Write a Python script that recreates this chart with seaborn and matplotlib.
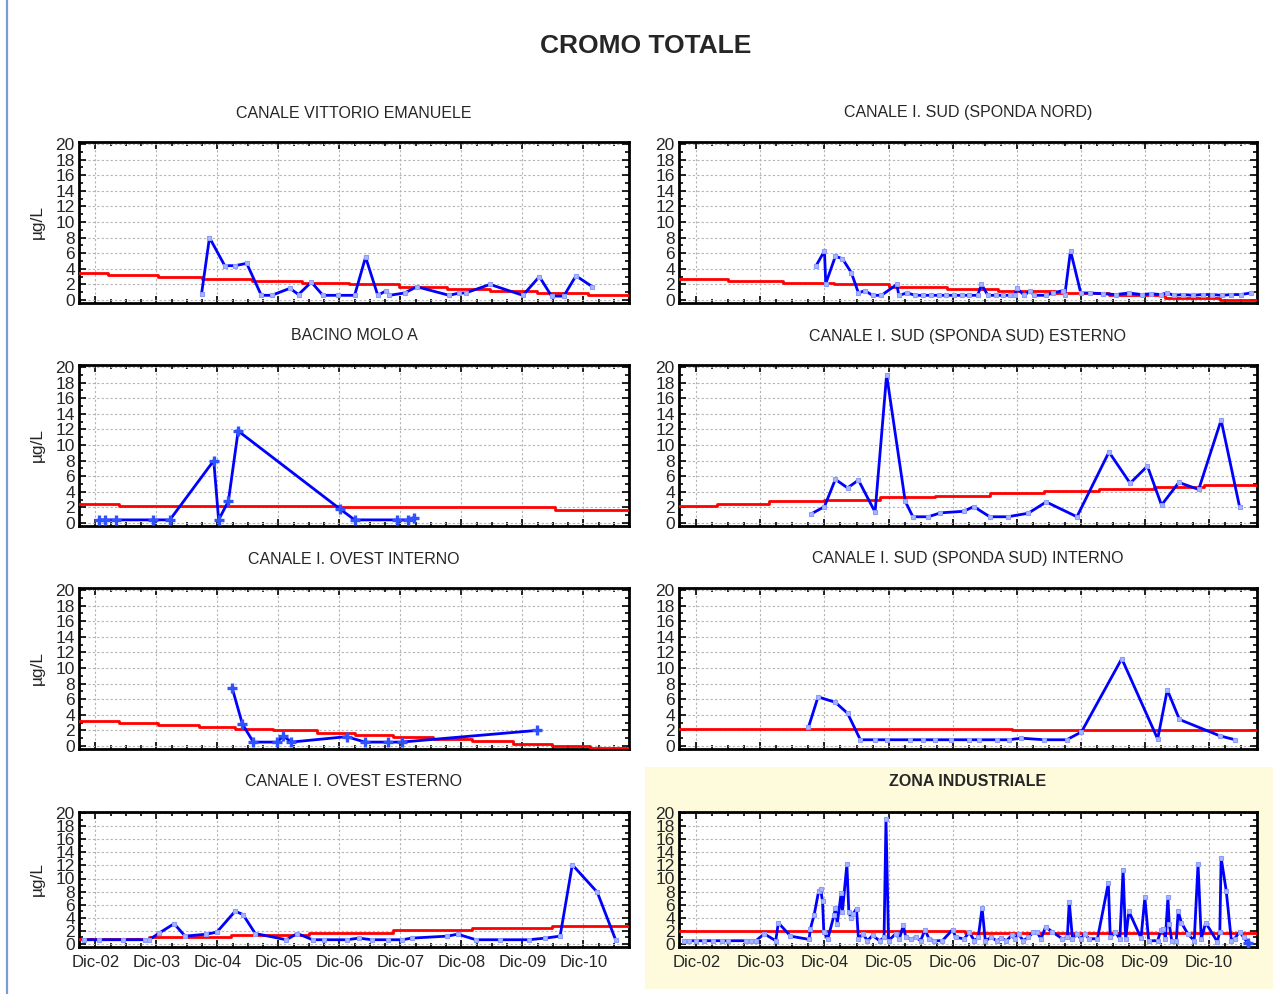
import numpy as np
import pandas as pd
import matplotlib
matplotlib.use('Agg')
import matplotlib.pyplot as plt
import seaborn as sns
from matplotlib.ticker import MultipleLocator, FixedLocator
from matplotlib.patches import Rectangle
from matplotlib.lines import Line2D

# ---------------- DATA (x = years after Dic-02) ----------------
year_labels = ["Dic-02", "Dic-03", "Dic-04", "Dic-05", "Dic-06",
               "Dic-07", "Dic-08", "Dic-09", "Dic-10"]

titles = ["CANALE VITTORIO EMANUELE", "CANALE I. SUD (SPONDA NORD)",
          "BACINO MOLO A", "CANALE I. SUD (SPONDA SUD) ESTERNO",
          "CANALE I. OVEST INTERNO", "CANALE I. SUD (SPONDA SUD) INTERNO",
          "CANALE I. OVEST ESTERNO", "ZONA INDUSTRIALE"]

# CANALE VITTORIO EMANUELE
t_vitt = [1.74, 1.87, 2.12, 2.29, 2.48, 2.72, 2.89, 3.19, 3.33, 3.54, 3.73, 3.98, 4.25, 4.43, 4.63,
          4.77, 4.82, 5.07, 5.27, 5.80, 5.97, 6.07, 6.47, 7.01, 7.28, 7.48, 7.68, 7.88, 8.15]
v_vitt = [0.8, 8.0, 4.4, 4.4, 4.7, 0.6, 0.6, 1.5, 0.7, 2.3, 0.6, 0.6, 0.6, 5.5, 0.6,
          1.2, 0.6, 0.9, 1.7, 0.6, 0.9, 0.9, 2.0, 0.6, 3.0, 0.5, 0.5, 3.1, 1.7]
rb_vitt = [0.21, 1.02, 1.75, 2.56, 3.39, 4.16, 4.97, 5.77, 6.47, 7.24, 8.08]
rl_vitt = [3.5, 3.2, 3.0, 2.7, 2.5, 2.2, 2.0, 1.7, 1.4, 1.1, 0.9, 0.6]

# CANALE I. SUD (SPONDA NORD)
t_nord = [1.87, 2.00, 2.02, 2.17, 2.28, 2.42, 2.53, 2.63, 2.75, 2.89,
          3.13, 3.16, 3.29, 3.42, 3.54, 3.66, 3.78, 3.90, 4.02, 4.14,
          4.26, 4.39, 4.45, 4.55, 4.67, 4.79, 4.90, 4.97, 5.00, 5.12,
          5.21, 5.27, 5.46, 5.56, 5.72, 5.75, 5.84, 6.00, 6.15, 6.35,
          6.55, 6.75, 6.95, 7.10, 7.25, 7.35, 7.45, 7.60, 7.75, 7.90,
          8.05, 8.20, 8.35, 8.50, 8.65]
v_nord = [4.4, 6.3, 2.1, 5.6, 5.3, 3.5, 0.9, 1.2, 0.6, 0.6,
          2.0, 0.6, 0.9, 0.6, 0.6, 0.6, 0.6, 0.6, 0.6, 0.6,
          0.6, 0.6, 2.0, 0.6, 0.6, 0.6, 0.6, 0.6, 1.5, 0.6,
          1.2, 0.6, 0.6, 0.9, 1.2, 0.6, 6.3, 0.9, 0.9, 0.8,
          0.7, 0.9, 0.7, 0.8, 0.7, 0.9, 0.6, 0.7, 0.6, 0.7,
          0.7, 0.6, 0.7, 0.7, 0.9]
rb_nord = [0.49, 1.35, 2.15, 3.0, 3.92, 4.71, 5.59, 6.44, 7.31, 8.17]
rl_nord = [2.7, 2.4, 2.2, 2.0, 1.7, 1.4, 1.1, 0.9, 0.6, 0.3, 0.0]

# BACINO MOLO A
t_molo = [0.05, 0.15, 0.33, 0.95, 1.22, 1.94, 2.02, 2.18, 2.34, 4.01, 4.25, 4.95, 5.13, 5.22]
v_molo = [0.4, 0.4, 0.4, 0.4, 0.4, 8.0, 0.4, 2.8, 11.8, 1.8, 0.4, 0.4, 0.4, 0.7]
rb_molo = [0.38, 4.0, 7.54]
rl_molo = [2.5, 2.2, 2.0, 1.7]

# CANALE I. SUD (SPONDA SUD) ESTERNO
t_sest = [1.79, 2.00, 2.17, 2.36, 2.53, 2.79, 2.97, 3.26, 3.38, 3.62, 3.81, 4.17, 4.33,
          4.58, 4.86, 5.18, 5.46, 5.94, 6.44, 6.77, 7.04, 7.26, 7.53, 7.84, 8.19, 8.48]
v_sest = [1.15, 2.1, 5.6, 4.5, 5.5, 1.4, 19.0, 2.8, 0.8, 0.8, 1.3, 1.5, 2.1,
          0.8, 0.8, 1.25, 2.7, 0.8, 9.1, 5.1, 7.3, 2.3, 5.2, 4.3, 13.2, 2.0]
rb_sest = [0.32, 1.13, 2.0, 2.86, 3.72, 4.59, 5.43, 6.29, 7.15, 7.93]
rl_sest = [2.2, 2.5, 2.8, 3.0, 3.3, 3.5, 3.8, 4.1, 4.3, 4.6, 4.9]

# CANALE I. OVEST INTERNO
t_oint = [2.24, 2.41, 2.59, 2.98, 3.08, 3.21, 4.12, 4.42, 4.79, 5.02, 7.24]
v_oint = [7.5, 2.8, 0.5, 0.5, 1.3, 0.5, 1.2, 0.5, 0.5, 0.5, 2.0]
rb_oint = [0.38, 1.02, 1.69, 2.29, 2.91, 3.63, 4.25, 4.88, 5.54, 6.17, 6.84, 7.48, 8.11]
rl_oint = [3.2, 3.0, 2.7, 2.5, 2.2, 2.0, 1.7, 1.4, 1.1, 0.9, 0.6, 0.3, 0.0, -0.3]

# CANALE I. SUD (SPONDA SUD) INTERNO
t_sint = [1.75, 1.90, 2.17, 2.36, 2.56, 2.79, 2.97, 3.34, 3.53, 3.72, 3.97, 4.25, 4.41,
          4.69, 4.88, 5.07, 5.43, 5.78, 6.01, 6.64, 7.20, 7.35, 7.54, 8.17, 8.41]
v_sint = [2.4, 6.3, 5.6, 4.2, 0.8, 0.8, 0.8, 0.8, 0.8, 0.8, 0.8, 0.8, 0.8,
          0.8, 0.8, 1.0, 0.8, 0.8, 1.8, 11.2, 0.9, 7.2, 3.4, 1.3, 0.8]
rb_sint = [4.93]
rl_sint = [2.2, 2.0]

# CANALE I. OVEST ESTERNO
t_oest = [-0.19, 0.05, 0.45, 0.82, 0.88, 1.05, 1.29, 1.47, 1.82, 1.99, 2.29, 2.42, 2.62,
          3.13, 3.31, 3.56, 3.75, 4.13, 4.32, 4.53, 4.79, 5.03, 5.19, 5.77, 5.94, 6.24,
          6.64, 7.11, 7.38, 7.62, 7.82, 8.23, 8.53]
v_oest = [0.65, 0.65, 0.65, 0.65, 0.65, 1.7, 3.1, 1.2, 1.5, 1.8, 5.0, 4.5, 1.6,
          0.65, 1.6, 0.65, 0.65, 0.65, 0.9, 0.65, 0.65, 0.65, 0.9, 1.2, 1.5, 0.65,
          0.65, 0.65, 0.9, 1.2, 12.1, 7.9, 0.65]
rb_oest = [0.88, 2.22, 3.51, 4.88, 6.18, 7.49]
rl_oest = [0.8, 1.1, 1.4, 1.7, 2.1, 2.4, 2.7]

# ZONA INDUSTRIALE
t_zona = [-0.19, -0.11, 0.0, 0.12, 0.26, 0.4, 0.5, 0.77, 0.85, 0.93,
          1.06, 1.24, 1.28, 1.47, 1.76, 1.78, 1.84, 1.91, 1.94, 1.97,
          1.99, 2.05, 2.15, 2.17, 2.20, 2.26, 2.28, 2.35, 2.38, 2.41,
          2.45, 2.50, 2.53, 2.60, 2.67, 2.75, 2.86, 2.93, 2.96, 3.00,
          3.11, 3.17, 3.23, 3.27, 3.35, 3.43, 3.50, 3.57, 3.63, 3.71,
          3.84, 4.00, 4.05, 4.18,
          4.26, 4.34, 4.40, 4.46, 4.51, 4.60, 4.69, 4.76, 4.84, 4.92,
          4.97, 5.03, 5.10, 5.18, 5.26, 5.31, 5.38, 5.45, 5.55, 5.71,
          5.79, 5.82, 5.87, 5.94, 6.00, 6.06, 6.13, 6.26, 6.43, 6.46,
          6.54, 6.61, 6.66, 6.70, 6.75, 6.94, 7.00, 7.06, 7.20, 7.25,
          7.29, 7.32, 7.36, 7.38, 7.42, 7.49, 7.52, 7.57, 7.67, 7.77,
          7.83, 7.88, 7.95, 8.13, 8.17, 8.19, 8.27, 8.35, 8.40, 8.48,
          8.54, 8.61]
v_zona = [0.5, 0.5, 0.5, 0.5, 0.5, 0.5, 0.5, 0.5, 0.5, 0.5,
          1.55, 0.5, 3.25, 1.2, 0.7, 2.3, 4.5, 8.1, 8.4, 6.5,
          1.9, 0.7, 4.4, 5.5, 3.1, 7.75, 4.9, 12.2, 4.9, 4.0,
          4.65, 5.4, 0.8, 1.55, 0.5, 1.3, 0.5, 1.0, 19.1, 0.5,
          1.55, 0.8, 2.85, 1.0, 0.8, 1.0, 0.5, 2.2, 0.8, 0.5,
          0.5, 2.2, 1.0, 0.8,
          1.8, 0.5, 1.0, 5.5, 0.5, 1.0, 0.5, 0.9, 0.5, 1.3,
          0.8, 1.55, 0.5, 1.0, 1.8, 1.9, 0.8, 2.6, 1.9, 0.8,
          1.0, 6.45, 0.8, 1.55, 0.8, 1.55, 0.8, 0.8, 9.3, 1.0,
          1.8, 0.8, 11.3, 0.7, 5.0, 0.9, 7.1, 0.5, 0.5, 2.1,
          2.3, 0.8, 7.1, 3.1, 0.5, 0.5, 5.0, 3.25, 1.55, 0.5,
          12.2, 0.8, 3.25, 0.35, 1.9, 13.2, 8.1, 0.5, 0.8, 1.9,
          1.0, 0.15]
rb_zona = [4.2]
rl_zona = [2.0, 1.7]

# ---------------- FIGURE ----------------
sns.set_theme(style='white')
plt.rcParams['font.family'] = ['Liberation Sans', 'DejaVu Sans']

W, H = 1273, 994
fig = plt.figure(figsize=(W / 100, H / 100), dpi=100)
fig.patch.set_facecolor('white')

XMIN, XMAX = -0.27, 8.75
YMIN, YMAX = -0.4, 20.2

# yellow background for ZONA INDUSTRIALE
fig.patches.append(Rectangle((645 / W, 1 - 989 / H), (W - 645) / W, (989 - 767) / H,
                             transform=fig.transFigure, facecolor='#fdfbdc',
                             edgecolor='none', zorder=-5))
# left border line of the frame
fig.lines.append(Line2D([7 / W, 7 / W], [0, 1], transform=fig.transFigure,
                        color='#7b9bd2', lw=1.6, zorder=-5))

fig.text(646 / W, 1 - 46 / H, "CROMO TOTALE", ha='center', va='center',
         fontsize=19, fontweight='bold')

cols = [(79, 629), (679, 1257)]
rows = [(144, 300), (367, 523), (590, 746), (813, 944)]  # pixel y of 20 and 0
title_y = [113, 336, 559, 782]

panels = [
    (t_vitt, v_vitt, rb_vitt, rl_vitt, 's'),
    (t_nord, v_nord, rb_nord, rl_nord, 's'),
    (t_molo, v_molo, rb_molo, rl_molo, '+'),
    (t_sest, v_sest, rb_sest, rl_sest, 's'),
    (t_oint, v_oint, rb_oint, rl_oint, '+'),
    (t_sint, v_sint, rb_sint, rl_sint, 's'),
    (t_oest, v_oest, rb_oest, rl_oest, 's'),
    (t_zona, v_zona, rb_zona, rl_zona, 's'),
]

for i, (tt, vv, rb, rl, mk) in enumerate(panels):
    r, c = divmod(i, 2)
    x0, x1 = cols[c]
    y20, y0 = rows[r]
    ppu = (y0 - y20) / 20.0
    top = y20 - (YMAX - 20) * ppu
    bot = y0 - YMIN * ppu
    ax = fig.add_axes([x0 / W, 1 - bot / H, (x1 - x0) / W, (bot - top) / H])
    ax.set_zorder(2)
    ax.set_facecolor('white')

    # red step trend
    rx = [XMIN] + list(rb) + [XMAX]
    ry = list(rl) + [rl[-1]]
    sns.lineplot(x=rx, y=ry, ax=ax, color='#ff0000', lw=2.0, drawstyle='steps-post',
                 estimator=None, sort=False, zorder=3)

    # blue measured series
    if mk == '+':
        sns.lineplot(x=tt, y=vv, ax=ax, color='#0000ff', lw=2.0, estimator=None, sort=False,
                     marker='+', markersize=6.5, markeredgewidth=2.4,
                     markeredgecolor='#2f52ff', zorder=4)
    else:
        sns.lineplot(x=tt, y=vv, ax=ax, color='#0000ff', lw=2.0, estimator=None, sort=False,
                     marker='s', markersize=3.2, markeredgewidth=0.8,
                     markerfacecolor='#aab6ff', markeredgecolor='#8a9bff', zorder=4)
    if i == 7:
        ax.plot([tt[-1]], [vv[-1]], marker='+', ms=6.5, mew=2.4, color='#2f52ff', zorder=5)

    ax.set_xlim(XMIN, XMAX)
    ax.set_ylim(YMIN, YMAX)
    ax.xaxis.set_major_locator(FixedLocator(list(range(len(year_labels)))))
    ax.xaxis.set_minor_locator(MultipleLocator(0.25))
    ax.yaxis.set_major_locator(FixedLocator(list(range(0, 21, 2))))
    ax.yaxis.set_minor_locator(MultipleLocator(1))
    ax.grid(True, which='major', linestyle=(0, (2, 2)), color='#b4b4b4', lw=0.8)
    ax.tick_params(which='both', direction='in', top=True, right=True, bottom=True, left=True,
                   color='black', width=1.2)
    ax.tick_params(which='major', length=5, labelsize=12.5, pad=3)
    ax.tick_params(which='minor', length=3)
    if r == 3:
        ax.set_xticklabels(year_labels, fontsize=12)
        ax.tick_params(axis='x', pad=6)
    else:
        ax.set_xticklabels([])
    ax.set_yticklabels([str(v) for v in range(0, 21, 2)])
    for s in ax.spines.values():
        s.set_color('black')
        s.set_linewidth(2.0)
    ax.set_xlabel('')
    ax.set_ylabel('')
    if c == 0:
        fig.text(37 / W, 1 - ((y20 + y0) / 2) / H, "µg/L", rotation=90,
                 ha='center', va='center', fontsize=12.5)

    fig.text(((x0 + x1) / 2) / W, 1 - title_y[r] / H, titles[i], ha='center', va='center',
             fontsize=11.5, fontweight='bold' if i == 7 else 'normal')

fig.savefig('out.png', dpi=100, facecolor='white')
